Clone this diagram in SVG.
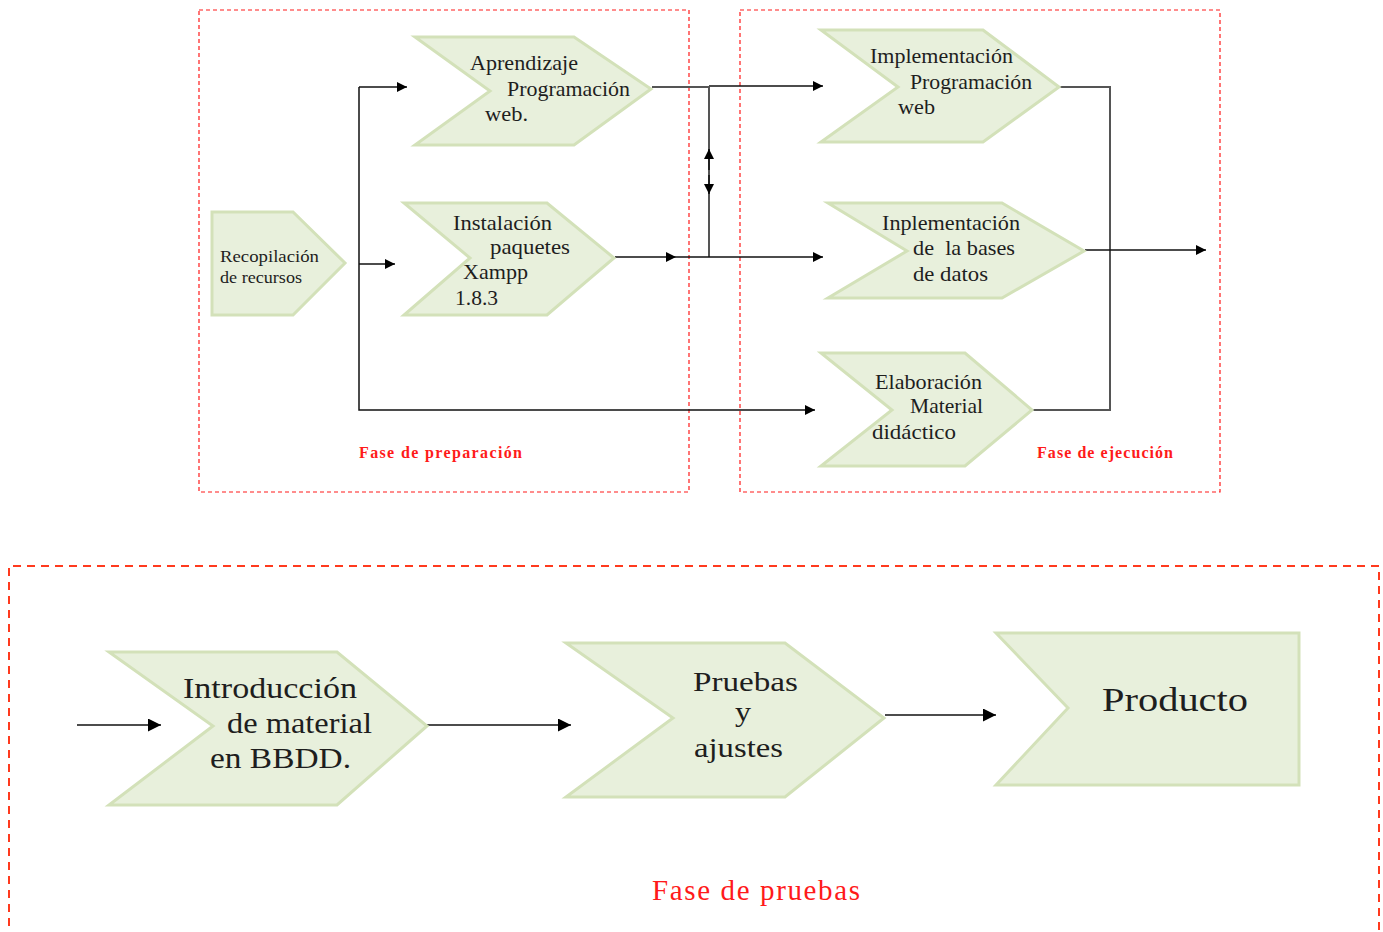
<svg xmlns="http://www.w3.org/2000/svg" width="1383" height="932" viewBox="0 0 1383 932">
  <style>
    .phase { fill: none; stroke: #ff1a1a; stroke-width: 1.2; stroke-dasharray: 4 3; }
    .phase2 { fill: none; stroke: #ff3a1e; stroke-width: 2; stroke-dasharray: 8 6; }
    .shape { fill: #e8f0dc; stroke: #d3e1b9; stroke-width: 3; stroke-linejoin: miter; }
    .t { font-family: "Liberation Serif", "DejaVu Serif", serif; fill: #1e1e1e; }
    .s { font-size: 21px; }
    .l { font-size: 29px; }
    .lbl { font-family: "Liberation Serif", "DejaVu Serif", serif; fill: #ff1a1a; }
    .wire { fill: none; stroke: #111; stroke-width: 1.5; }
    .gwire { fill: none; stroke: #555; stroke-width: 2; }
  </style>
  <defs>
    <marker id="arr" viewBox="0 0 10 10" refX="10" refY="5" markerWidth="10" markerHeight="10" markerUnits="userSpaceOnUse" orient="auto">
      <path d="M0,0 L10,5 L0,10 z" fill="#000"/>
    </marker>
    <marker id="arrL" viewBox="0 0 10 10" refX="10" refY="5" markerWidth="13" markerHeight="13" markerUnits="userSpaceOnUse" orient="auto">
      <path d="M0,0 L10,5 L0,10 z" fill="#000"/>
    </marker>
  </defs>
  <rect width="1383" height="932" fill="#fff"/>

  <!-- phase frames -->
  <g id="phases">
    <rect class="phase" x="199" y="10" width="490" height="482"/>
    <rect class="phase" x="740" y="10" width="480" height="482"/>
    <path class="phase2" d="M9,940 L9,566 L1379,566 L1379,940"/>
    <text class="lbl" x="359" y="458" font-size="16" font-weight="bold" textLength="163" lengthAdjust="spacing">Fase de preparación</text>
    <text class="lbl" x="1037" y="458" font-size="16" font-weight="bold" textLength="136" lengthAdjust="spacing">Fase de ejecución</text>
    <text class="lbl" x="652" y="900" font-size="29" textLength="208" lengthAdjust="spacing">Fase de pruebas</text>
  </g>

  <!-- connectors -->
  <g id="connectors">
    <polyline class="wire" points="359,87 359,410 815,410" marker-end="url(#arr)"/>
    <line class="wire" x1="359" y1="87" x2="407" y2="87" marker-end="url(#arr)"/>
    <line class="wire" x1="359" y1="264" x2="395" y2="264" marker-end="url(#arr)"/>
    <line class="gwire" x1="652" y1="87" x2="709" y2="87"/>
    <line class="wire" x1="709" y1="86" x2="823" y2="86" marker-end="url(#arr)"/>
    <line class="gwire" x1="709" y1="87" x2="709" y2="257"/>
    <line class="wire" x1="709" y1="170" x2="709" y2="149" marker-end="url(#arr)"/>
    <line class="wire" x1="709" y1="175" x2="709" y2="194" marker-end="url(#arr)"/>
    <line class="wire" x1="615" y1="257" x2="676" y2="257" marker-end="url(#arr)"/>
    <line class="wire" x1="676" y1="257" x2="823" y2="257" marker-end="url(#arr)"/>
    <polyline class="gwire" points="1060,87 1110,87 1110,410 1033,410"/>
    <line class="wire" x1="1085" y1="250" x2="1206" y2="250" marker-end="url(#arr)"/>
    <line class="wire" x1="77" y1="725" x2="161" y2="725" stroke-width="2" marker-end="url(#arrL)"/>
    <line class="wire" x1="427" y1="725" x2="571" y2="725" stroke-width="2" marker-end="url(#arrL)"/>
    <line class="wire" x1="885" y1="715" x2="996" y2="715" stroke-width="2" marker-end="url(#arrL)"/>
  </g>

  <g id="recopilacion">
    <polygon class="shape" points="212,212 293,212 345,263 293,315 212,315"/>
    <text class="t" x="220" y="262" font-size="17" textLength="99" lengthAdjust="spacingAndGlyphs">Recopilación</text>
    <text class="t" x="220" y="283" font-size="17" textLength="82" lengthAdjust="spacingAndGlyphs">de recursos</text>
  </g>

  <g id="aprendizaje">
    <polygon class="shape" points="415,37 574,37 651,89 574,145 415,145 490,91"/>
    <text class="t s" x="470" y="70" textLength="108" lengthAdjust="spacingAndGlyphs">Aprendizaje</text>
    <text class="t s" x="507" y="96" textLength="123" lengthAdjust="spacingAndGlyphs">Programación</text>
    <text class="t s" x="485" y="121" textLength="43" lengthAdjust="spacingAndGlyphs">web.</text>
  </g>

  <g id="instalacion">
    <polygon class="shape" points="404,203 547,203 614,258 547,315 404,315 470,258"/>
    <text class="t s" x="453" y="230" textLength="99" lengthAdjust="spacingAndGlyphs">Instalación</text>
    <text class="t s" x="490" y="254" textLength="80" lengthAdjust="spacingAndGlyphs">paquetes</text>
    <text class="t s" x="463" y="279" textLength="65" lengthAdjust="spacingAndGlyphs">Xampp</text>
    <text class="t s" x="455" y="305" textLength="43" lengthAdjust="spacingAndGlyphs">1.8.3</text>
  </g>

  <g id="impl-web">
    <polygon class="shape" points="821,30 983,30 1059,87 983,142 821,142 898,87"/>
    <text class="t s" x="870" y="63" textLength="143" lengthAdjust="spacingAndGlyphs">Implementación</text>
    <text class="t s" x="910" y="89" textLength="122" lengthAdjust="spacingAndGlyphs">Programación</text>
    <text class="t s" x="898" y="114" textLength="37" lengthAdjust="spacingAndGlyphs">web</text>
  </g>

  <g id="impl-bd">
    <polygon class="shape" points="828,203 1002,203 1084,251 1002,298 828,298 907,251"/>
    <text class="t s" x="882" y="230" textLength="138" lengthAdjust="spacingAndGlyphs">Inplementación</text>
    <text class="t s" x="913" y="255" textLength="102" lengthAdjust="spacingAndGlyphs" xml:space="preserve">de  la bases</text>
    <text class="t s" x="913" y="281" textLength="75" lengthAdjust="spacingAndGlyphs">de datos</text>
  </g>

  <g id="elaboracion">
    <polygon class="shape" points="821,353 965,353 1032,410 965,466 821,466 892,410"/>
    <text class="t s" x="875" y="389" textLength="107" lengthAdjust="spacingAndGlyphs">Elaboración</text>
    <text class="t s" x="910" y="413" textLength="73" lengthAdjust="spacingAndGlyphs">Material</text>
    <text class="t s" x="872" y="439" textLength="84" lengthAdjust="spacingAndGlyphs">didáctico</text>
  </g>

  <g id="introduccion">
    <polygon class="shape" points="109,652 337,652 427,726 337,805 109,805 213,726"/>
    <text class="t l" x="183" y="698" textLength="174" lengthAdjust="spacingAndGlyphs">Introducción</text>
    <text class="t l" x="227" y="733" textLength="145" lengthAdjust="spacingAndGlyphs">de material</text>
    <text class="t l" x="210" y="768" textLength="141" lengthAdjust="spacingAndGlyphs">en BBDD.</text>
  </g>

  <g id="pruebas">
    <polygon class="shape" points="566,643 785,643 884,718 785,797 566,797 673,718"/>
    <text class="t" x="693" y="691" font-size="27" textLength="105" lengthAdjust="spacingAndGlyphs">Pruebas</text>
    <text class="t" x="735" y="721" font-size="27" textLength="16" lengthAdjust="spacingAndGlyphs">y</text>
    <text class="t" x="694" y="757" font-size="27" textLength="89" lengthAdjust="spacingAndGlyphs">ajustes</text>
  </g>

  <g id="producto">
    <polygon class="shape" points="996,633 1299,633 1299,785 996,785 1068,708"/>
    <text class="t" x="1102" y="711" font-size="34" textLength="146" lengthAdjust="spacingAndGlyphs">Producto</text>
  </g>
</svg>
